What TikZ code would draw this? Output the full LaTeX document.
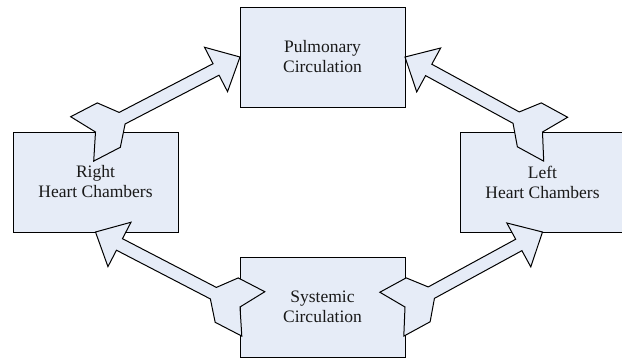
\documentclass[tikz,border=0pt]{standalone}
\usepackage{fontspec}
\setmainfont{Liberation Serif}
\usetikzlibrary{calc}
\definecolor{boxfill}{RGB}{230,236,247}
\tikzset{
  stage/.style={draw=black, fill=boxfill, line width=1pt, minimum width=165pt,
    minimum height=100pt, inner sep=0pt, outer sep=0pt, align=center,
    font=\fontsize{17.5}{20}\selectfont, text=black!90},
  flowarrow/.style={draw=black, fill=boxfill, line width=1pt, line join=miter}
}
\newcommand\blockarrow[2]{%
  \draw[flowarrow]
    ($(#1)!-15pt!(#2)!25pt!90:(#2)$) --
    ($(#1)!15pt!(#2)!25pt!90:(#2)$) --
    ($(#1)!30pt!(#2)!6.5pt!90:(#2)$) --
    ($(#2)!27pt!(#1)!6.5pt!-90:(#1)$) --
    ($(#2)!27pt!(#1)!25pt!-90:(#1)$) --
    (#2) --
    ($(#2)!27pt!(#1)!25pt!90:(#1)$) --
    ($(#2)!27pt!(#1)!6.5pt!90:(#1)$) --
    ($(#1)!30pt!(#2)!6.5pt!-90:(#2)$) --
    ($(#1)!15pt!(#2)!25pt!-90:(#2)$) --
    ($(#1)!-15pt!(#2)!25pt!-90:(#2)$) --
    (#1) -- cycle;}
\begin{document}
\begin{tikzpicture}[x=1pt,y=-1pt]
\useasboundingbox (0,0) rectangle (622,360);
\node[stage] (pu) at (322.5,57) {Pulmonary\\Circulation};
\node[stage] (rh) at (95.5,182) {Right\\Heart Chambers};
\node[stage] (lh) at (542.5,182) {Left\\Heart Chambers};
\node[stage] (sy) at (322.5,307) {Systemic\\Circulation};
\blockarrow{rh.north}{pu.west}
\blockarrow{lh.north}{pu.east}
\blockarrow{sy.west}{rh.south}
\blockarrow{sy.east}{lh.south}
\end{tikzpicture}
\end{document}
